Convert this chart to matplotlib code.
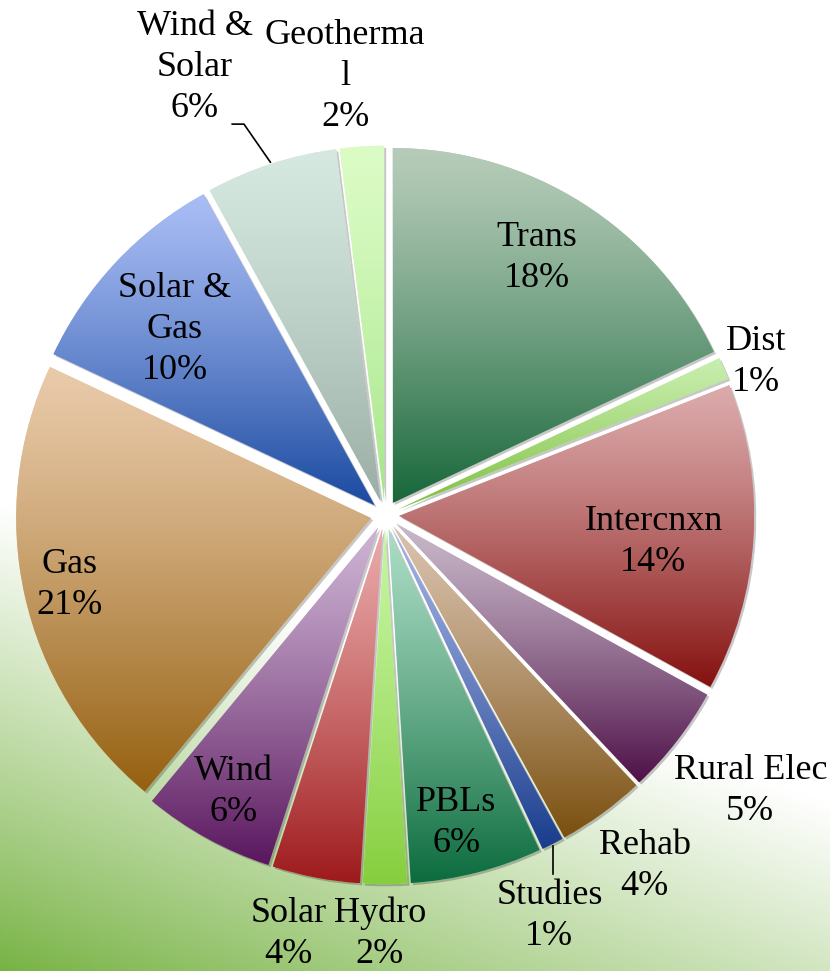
import numpy as np
import matplotlib
matplotlib.use("Agg")
import matplotlib.pyplot as plt
from matplotlib import patheffects as pe
from matplotlib.colors import to_rgb

# slices, clockwise from 12 o'clock
names = ["Trans", "Dist", "Intercnxn", "Rural Elec", "Rehab", "Studies", "PBLs",
         "Hydro", "Solar", "Wind", "Gas", "Solar &\nGas", "Wind &\nSolar", "Geotherma\nl"]
shares = [18, 1, 14, 5, 4, 1, 6, 2, 4, 6, 21, 10, 6, 2]

# gradient colours per slice (top -> bottom)
top_colors = ["#b6ccb9", "#c8eeae", "#dcaaab", "#c8b8c9", "#d9c2ae", "#a2b2e4", "#abdcc4",
              "#c6f6a2", "#eaa9a9", "#cdb3d3", "#e9caaa", "#a9bdf5", "#d5e9e0", "#dcfcc6"]
bottom_colors = ["#17673a", "#7cbf3e", "#84110f", "#4e1048", "#7a4f0e", "#183c8c", "#0c6c3e",
                 "#86ce3e", "#9e1a1c", "#5a165e", "#95600f", "#1a4aa0", "#9aaea6", "#a6e68a"]

# label placement: distance from centre (pie radii) and clockwise nudge (deg)
label_r = [0.84, 1.13, 0.76, 1.29, 1.23, 1.22, 0.89, 1.18, 1.21, 0.89, 0.91, 0.79, 1.37, 1.24]
label_dtheta = [-1.8, 1.0, 2.1, -0.7, -0.5, 4.7, 1.4, 0.7, 2.2, -0.1, 0.1, -1.8, -5.0, -1.6]

W, H = 830, 971
R_PX = 355          # pie radius in pixels
CX, CY = 385, 515   # pie centre in pixels (from top-left)

fig = plt.figure(figsize=(W / 100, H / 100), dpi=100)

# background: green corner fading to white
bg = fig.add_axes([0, 0, 1, 1])
bg.axis("off")
yy, xx = np.mgrid[0:H, 0:W]
yb = H - yy
t = xx * np.cos(np.radians(70)) + yb * np.sin(np.radians(70))
wgt = (np.clip(t / 440.0, 0, 1) ** 0.9)[..., None]
green = np.array(to_rgb("#76b242"))
bg.imshow(green * (1 - wgt) + wgt, extent=[0, 1, 0, 1], aspect="auto", origin="upper")

ax = fig.add_axes([0, 0, 1, 1])
ax.patch.set_alpha(0)

wedges, _ = ax.pie(shares, startangle=90, counterclock=False, explode=[0.04] * len(shares),
                   radius=1, colors=top_colors, wedgeprops=dict(edgecolor="none"))

grad = (np.linspace(0, 1, 256) ** 1.2)[:, None, None]
for w, c0, c1 in zip(wedges, top_colors, bottom_colors):
    w.set_path_effects([pe.SimplePatchShadow(offset=(1.5, -1.5), shadow_rgbFace="k", alpha=0.22),
                        pe.Normal()])
    ext = w.get_path().get_extents()
    img = np.array(to_rgb(c0)) * (1 - grad) + np.array(to_rgb(c1)) * grad
    im = ax.imshow(img, extent=[ext.x0, ext.x1, ext.y0, ext.y1], origin="upper",
                   aspect="auto", interpolation="bilinear", zorder=2)
    im.set_clip_path(w)

font = dict(family="Liberation Serif", fontsize=26)
for i, w in enumerate(wedges):
    mid = (w.theta1 + w.theta2) / 2 - label_dtheta[i]
    x = label_r[i] * np.cos(np.radians(mid))
    y = label_r[i] * np.sin(np.radians(mid))
    ax.text(x, y, f"{names[i]}\n{shares[i]}%", ha="center", va="center",
            linespacing=1.32, zorder=5, **font)

# leader lines for Studies and Wind & Solar
def arc_point(w, r=1.045):
    a = np.radians((w.theta1 + w.theta2) / 2)
    return r * np.cos(a), r * np.sin(a)

sx, sy = arc_point(wedges[5])
ax.plot([sx, sx], [sy, sy - 0.08], color="black", lw=1.2, zorder=5)

wx, wy = arc_point(wedges[12])
a = np.radians((wedges[12].theta1 + wedges[12].theta2) / 2 - label_dtheta[12])
lx, ly = label_r[12] * np.cos(a), label_r[12] * np.sin(a)
ax.plot([wx, lx + 0.138, lx + 0.105], [wy, ly - 0.16, ly - 0.16], color="black", lw=1.2, zorder=5)

ax.set_xlim(-CX / R_PX, (W - CX) / R_PX)
ax.set_ylim(-(H - CY) / R_PX, CY / R_PX)
ax.set_aspect("auto")
ax.axis("off")

fig.savefig("out.png", dpi=100)
